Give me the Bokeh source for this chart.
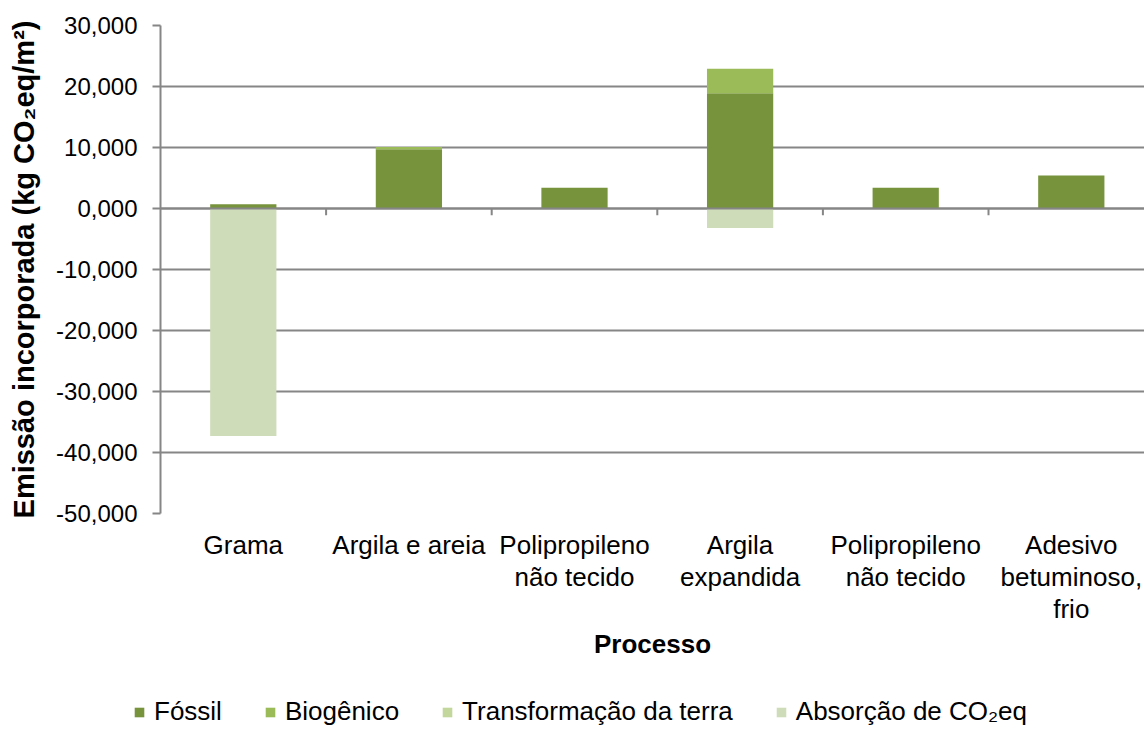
from bokeh.plotting import figure
from bokeh.models import (FixedTicker, Span, Legend, LegendItem, Range1d, LinearAxis, ColumnDataSource)
from bokeh.layouts import column, row
from bokeh.embed import file_html
from bokeh.resources import INLINE

categories = ["Grama", "Argila e areia", "Polipropileno\nnão tecido", "Argila\nexpandida",
              "Polipropileno\nnão tecido", "Adesivo\nbetuminoso,\nfrio"]
fossil = [0.7, 9.7, 3.4, 18.9, 3.4, 5.4]
biogenico = [0.0, 0.4, 0.0, 4.0, 0.0, 0.0]
transformacao = [0.0, 0.0, 0.0, 0.0, 0.0, 0.0]
absorcao = [-37.3, 0.0, 0.0, -3.2, 0.0, 0.0]
y_ticks = [-50, -40, -30, -20, -10, 0, 10, 20, 30]
y_tick_labels = ["-50,000", "-40,000", "-30,000", "-20,000", "-10,000", "0,000", "10,000", "20,000", "30,000"]
series_names = ["Fóssil", "Biogênico", "Transformação da terra", "Absorção de CO₂eq"]
colors = ["#77933C", "#9BBB59", "#C3D69B", "#CFDCB9"]

FONT = "Liberation Sans"
n = len(categories)
xc = [i + 0.5 for i in range(n)]
bio_top = [f + b for f, b in zip(fossil, biogenico)]
ab_bot = [t + a for t, a in zip(transformacao, absorcao)]

src = ColumnDataSource(dict(x=xc, fz=[0.0]*n, ft=fossil, bb=fossil, bt=bio_top,
                            tt=[0.0]*n, tb=transformacao, at=transformacao, ab=ab_bot))
stack_cols = [("fz", "ft"), ("bb", "bt"), ("tb", "tt"), ("ab", "at")]

p = figure(width=1144, height=690, output_backend="svg", toolbar_location=None,
           x_range=Range1d(0, 5.942), y_range=Range1d(-50, 30),
           min_border_left=160, min_border_right=0, min_border_top=25, min_border_bottom=177,
           x_axis_location=None)
p.outline_line_color = None
p.background_fill_color = "white"

W = 0.4
for (b, t), c in zip(stack_cols, colors):
    p.vbar(x="x", bottom=b, top=t, width=W, source=src, fill_color=c, line_color=None)

# zero line with tick marks
bounds = [i for i in range(1, n)]
p.segment(x0=bounds, x1=bounds, y0=[0]*len(bounds), y1=[-1.1]*len(bounds), line_color="#868686", line_width=2)
p.add_layout(Span(location=0, dimension="width", line_color="#868686", line_width=2))

# y axis
p.yaxis.ticker = FixedTicker(ticks=y_ticks)
p.yaxis.major_label_overrides = {t: l for t, l in zip(y_ticks, y_tick_labels)}
p.yaxis.axis_line_color = "#868686"
p.yaxis.axis_line_width = 2
p.yaxis.major_tick_line_color = "#868686"
p.yaxis.major_tick_line_width = 2
p.yaxis.major_tick_out = 8
p.yaxis.major_tick_in = 0
p.yaxis.minor_tick_line_color = None
p.yaxis.major_label_standoff = 15
p.yaxis.major_label_text_font = FONT
p.yaxis.major_label_text_font_size = "24px"
p.yaxis.major_label_text_color = "black"
p.yaxis.axis_label = "Emissão incorporada (kg CO₂eq/m²)"
p.yaxis.axis_label_text_font = FONT
p.yaxis.axis_label_text_font_size = "29px"
p.yaxis.axis_label_text_font_style = "bold"
p.yaxis.axis_label_text_color = "black"
p.yaxis.axis_label_standoff = 13

p.ygrid.ticker = FixedTicker(ticks=y_ticks)
p.ygrid.grid_line_color = "#868686"
p.ygrid.grid_line_width = 2
p.xgrid.grid_line_color = None

# x axis (labels only)
xa = LinearAxis(ticker=FixedTicker(ticks=xc))
xa.major_label_overrides = {x: c for x, c in zip(xc, categories)}
xa.axis_line_color = None
xa.major_tick_line_color = None
xa.minor_tick_line_color = None
xa.major_label_standoff = 10
xa.major_label_text_font = FONT
xa.major_label_text_font_size = "26px"
xa.major_label_text_line_height = 1.08
xa.major_label_text_color = "black"
xa.axis_label = "Processo"
xa.axis_label_text_font = FONT
xa.axis_label_text_font_size = "26px"
xa.axis_label_text_font_style = "bold"
xa.axis_label_text_color = "black"
xa.axis_label_standoff = 2
p.add_layout(xa, "below")

# legend strip (its bars use the same data but lie outside this strip's view)
lg = figure(width=1144, height=39, output_backend="svg", toolbar_location=None,
            x_range=Range1d(100, 101), y_range=Range1d(100, 101),
            min_border=0, x_axis_location=None, y_axis_location=None)
lg.outline_line_color = None
lg.xgrid.grid_line_color = None
lg.ygrid.grid_line_color = None
lr = [lg.vbar(x="x", bottom=b, top=t, width=W, source=src, fill_color=c, line_color=None)
      for (b, t), c in zip(stack_cols, colors)]
legend = Legend(items=[LegendItem(label=s, renderers=[r]) for s, r in zip(series_names, lr)],
                orientation="horizontal", location=(133, 2),
                glyph_width=12, glyph_height=12, label_standoff=9, spacing=42,
                label_text_font=FONT, label_text_font_size="26px", label_text_color="black",
                border_line_color=None, background_fill_alpha=0, padding=0, margin=0)
lg.add_layout(legend, "center")

layout = column(p, row(lg), spacing=0)
open("out.html", "w").write(file_html(layout, INLINE))
